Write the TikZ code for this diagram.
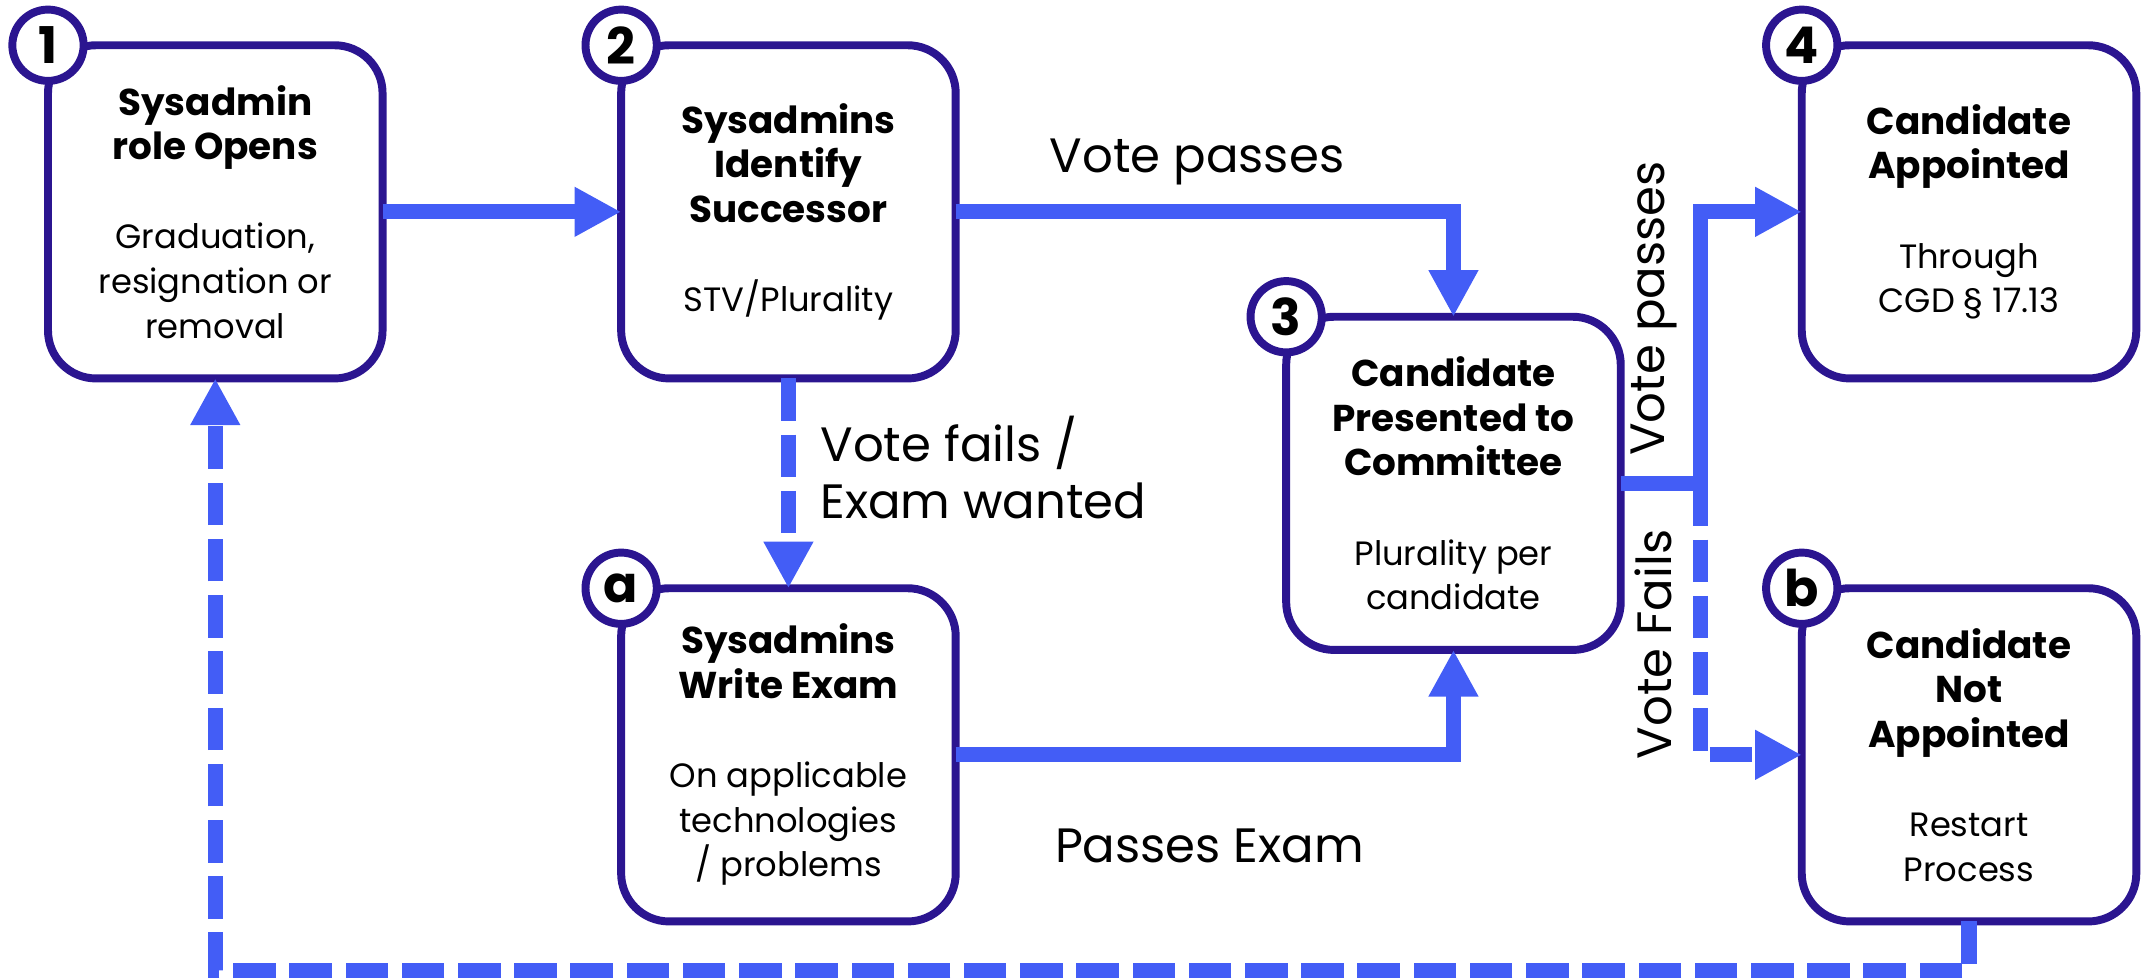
\documentclass[tikz,border=0pt]{standalone}
\usepackage{fontspec}
\setmainfont{Poppins}
\usetikzlibrary{arrows.meta}
\definecolor{boxpurple}{HTML}{2B1590}
\definecolor{flowblue}{HTML}{435DF6}

\tikzset{
  stage/.style={draw=boxpurple, line width=3.3pt, fill=white, rounded corners=0.7cm,
    minimum width=4.88cm, minimum height=4.86cm, align=center, inner sep=0, outer sep=0,
    font=\fontsize{14}{18.5}\selectfont},
  badge/.style={circle, draw=boxpurple, line width=3.3pt, fill=white, minimum size=1.04cm,
    inner sep=0, font=\fontsize{21}{21}\selectfont\bfseries},
  flow/.style={flowblue, line width=6.3pt, -{Triangle[length=0.68cm, width=0.68cm]}},
  dashflow/.style={flow, dash pattern=on 0.62cm off 0.2cm},
  edgetext/.style={font=\fontsize{20}{24}\selectfont, inner sep=0},
}
\newcommand{\ttl}[1]{{\fontsize{15.5}{18.5}\selectfont\bfseries #1}}

\begin{document}
\begin{tikzpicture}
    \useasboundingbox (0,0) rectangle (31.36,-14.26);

    % stages
    \node[stage] (s1) at (3.14,-3.09) {\ttl{Sysadmin}\\\ttl{role Opens}\\[18.5pt]Graduation,\\resignation or\\removal};
    \node[stage] (s2) at (11.5,-3.09) {\ttl{Sysadmins}\\\ttl{Identify}\\\ttl{Successor}\\[18.5pt]STV/Plurality};
    \node[stage] (s3) at (21.2,-7.05) {\ttl{Candidate}\\\ttl{Presented to}\\\ttl{Committee}\\[18.5pt]Plurality per\\candidate};
    \node[stage] (sa) at (11.5,-11.01) {\ttl{Sysadmins}\\\ttl{Write Exam}\\[18.5pt]On applicable\\technologies\\/ problems};
    \node[stage] (s4) at (28.72,-3.09) {\ttl{Candidate}\\\ttl{Appointed}\\[18.5pt]Through\\CGD § 17.13};
    \node[stage] (sb) at (28.72,-11.01) {\ttl{Candidate}\\\ttl{Not}\\\ttl{Appointed}\\[18.5pt]Restart\\Process};

    % step numbers
    \node[badge] (n1) at (s1.north west) {1};
    \node[badge] (n2) at (s2.north west) {2};
    \node[badge] (n3) at (s3.north west) {3};
    \node[badge] (na) at (sa.north west) {a};
    \node[badge] (n4) at (s4.north west) {4};
    \node[badge] (nb) at (sb.north west) {b};

    % flows
    \coordinate (split) at (24.8,-7.05);
    \draw[flow] (s1.east) -- (s2.west);
    \draw[flow] (s2.east) -| (s3.north);
    \draw[dashflow] (s2.south) -- (sa.north);
    \draw[flow] (sa.east) -| (s3.south);
    \draw[dashflow] (split) |- (sb.west);
    \draw[flow] (s3.east) -- (split) |- (s4.west);
    \draw[dashflow] (sb.south) -- ++(0,-0.72) -| (s1.south);

    % flow labels
    \node[edgetext] (l1) at (17.46,-2.36) {Vote passes};
    \node[edgetext, anchor=west, align=left] (l2) at (11.96,-6.82) {Vote fails /\\Exam wanted};
    \node[edgetext] (l3) at (17.64,-12.34) {Passes Exam};
    \node[edgetext, rotate=90] (l4) at (24.12,-4.5) {Vote passes};
    \node[edgetext, rotate=90] (l5) at (24.12,-9.4) {Vote Fails};
\end{tikzpicture}
\end{document}
